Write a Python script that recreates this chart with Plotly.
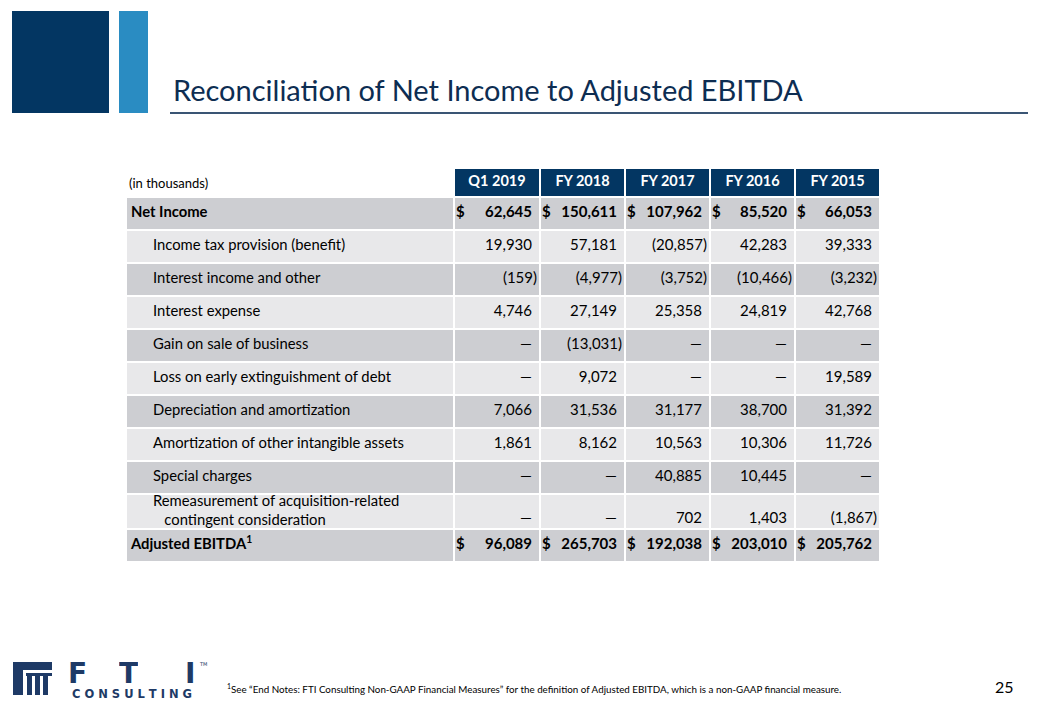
import plotly.graph_objects as go

# ---------------------------------------------------------------------------
# Data (in thousands)
# ---------------------------------------------------------------------------
periods = ["Q1 2019", "FY 2018", "FY 2017", "FY 2016", "FY 2015"]

row_labels = [
    "Net Income",
    "Income tax provision (benefit)",
    "Interest income and other",
    "Interest expense",
    "Gain on sale of business",
    "Loss on early extinguishment of debt",
    "Depreciation and amortization",
    "Amortization of other intangible assets",
    "Special charges",
    "Remeasurement of acquisition-related\ncontingent consideration",
    "Adjusted EBITDA",
]
total_rows = [0, 10]      # bold rows with "$" signs

q1_2019 = [62645, 19930, -159, 4746, None, None, 7066, 1861, None, None, 96089]
fy_2018 = [150611, 57181, -4977, 27149, -13031, 9072, 31536, 8162, None, None, 265703]
fy_2017 = [107962, -20857, -3752, 25358, None, None, 31177, 10563, 40885, 702, 192038]
fy_2016 = [85520, 42283, -10466, 24819, None, None, 38700, 10306, 10445, 1403, 203010]
fy_2015 = [66053, 39333, -3232, 42768, None, 19589, 31392, 11726, None, -1867, 205762]
columns = [q1_2019, fy_2018, fy_2017, fy_2016, fy_2015]

title = "Reconciliation of Net Income to Adjusted EBITDA"
units_note = "(in thousands)"
footnote = ("<sup>1</sup>See \u201cEnd Notes: FTI Consulting Non-GAAP Financial Measures\u201d "
            "for the definition of Adjusted EBITDA, which is a non-GAAP financial measure.")
page_no = "25"

# ---------------------------------------------------------------------------
# Layout constants (pixel space of the slide)
# ---------------------------------------------------------------------------
W, H = 1040, 720
NAVY = "#033662"
TITLE_C = "#0D2D52"
DARK_ROW = "#CDCED2"
LIGHT_ROW = "#E8E8EA"
LOGO_C = "#1E3A66"
FONT = "Lato, Carlito, Calibri, sans-serif"

col_edges = [126, 454, 540, 625, 710, 795, 880]
header_h, row_h, tall_row_h = 29, 33, 35
table_top = 168

row_edges = [table_top, table_top + header_h]
for lab in row_labels:
    row_edges.append(row_edges[-1] + (tall_row_h if "\n" in lab else row_h))
row_mid = [(a + b) / 2 for a, b in zip(row_edges[:-1], row_edges[1:])]


def fmt(v):
    if v is None:
        return "\u2014"
    s = f"{abs(v):,}"
    return f"({s})" if v < 0 else s


# ---------------------------------------------------------------------------
# Cell backgrounds: heatmap bricks with white gaps
# ---------------------------------------------------------------------------
# 0 dark grey, 1 light grey, 2 navy header, 3 white
z = [[3] + [2] * len(periods)]
for i in range(len(row_labels)):
    shade = 0 if i % 2 == 0 else 1
    z.append([shade] * (len(periods) + 1))

fig = go.Figure()
fig.add_trace(go.Heatmap(
    x=col_edges, y=row_edges, z=z,
    zmin=0, zmax=3,
    colorscale=[[0, DARK_ROW], [1 / 3, LIGHT_ROW], [2 / 3, NAVY], [1, "white"]],
    xgap=2, ygap=2, showscale=False, hoverinfo="skip",
))

# header text
fig.add_trace(go.Scatter(
    x=[(a + b) / 2 for a, b in zip(col_edges[1:-1], col_edges[2:])],
    y=[row_mid[0]] * len(periods),
    text=[f"<b>{p}</b>" for p in periods],
    mode="text", textposition="middle center",
    textfont=dict(family=FONT, size=14.5, color="white"),
    hoverinfo="skip", showlegend=False,
))

# row labels
lab_x, lab_t = [], []
for i, lab in enumerate(row_labels):
    if i in total_rows:
        lab_x.append(col_edges[0] + 5)
        t = "<b>" + lab + ("<sup>1</sup>" if i == 10 else "") + "</b>"
    else:
        lab_x.append(col_edges[0] + 27)
        t = lab.replace("\n", "<br>\u00a0\u00a0\u00a0")
    lab_t.append(t)
fig.add_trace(go.Scatter(
    x=lab_x, y=row_mid[1:], text=lab_t,
    mode="text", textposition="middle right",
    textfont=dict(family=FONT, size=14.8, color="black"),
    hoverinfo="skip", showlegend=False,
))

# values
for c, vals in enumerate(columns):
    left, right = col_edges[c + 1], col_edges[c + 2]
    xs, ys, ts = [], [], []
    for i, v in enumerate(vals):
        y = row_mid[i + 1] + (8 if "\n" in row_labels[i] else 0)
        xs.append(right - (3 if (v is not None and v < 0) else 8))
        ys.append(y)
        ts.append(f"<b>{fmt(v)}</b>" if i in total_rows else fmt(v))
    fig.add_trace(go.Scatter(
        x=xs, y=ys, text=ts,
        mode="text", textposition="middle left",
        textfont=dict(family=FONT, size=15, color="black"),
        hoverinfo="skip", showlegend=False,
    ))
    # dollar signs on total rows
    fig.add_trace(go.Scatter(
        x=[left + 2] * len(total_rows), y=[row_mid[i + 1] for i in total_rows],
        text=["<b>$</b>"] * len(total_rows),
        mode="text", textposition="middle right",
        textfont=dict(family=FONT, size=15, color="black"),
        hoverinfo="skip", showlegend=False,
    ))

# ---------------------------------------------------------------------------
# Slide furniture
# ---------------------------------------------------------------------------
shapes = [
    dict(type="rect", x0=12, x1=109, y0=11, y1=113, fillcolor=NAVY, line_width=0),
    dict(type="rect", x0=119, x1=148, y0=11, y1=113, fillcolor="#2A8CC2", line_width=0),
    dict(type="line", x0=170, x1=1028, y0=113, y1=113, line=dict(color="#3A5574", width=2)),
    # logo column icon
    dict(type="rect", x0=13, x1=52, y0=662, y1=670, fillcolor=LOGO_C, line_width=0),
    dict(type="rect", x0=13, x1=23, y0=670, y1=695, fillcolor=LOGO_C, line_width=0),
    dict(type="rect", x0=26, x1=52, y0=673, y1=676, fillcolor=LOGO_C, line_width=0),
]
for px0 in (27, 35, 43):
    shapes.append(dict(type="rect", x0=px0, x1=px0 + 5, y0=676, y1=695,
                       fillcolor=LOGO_C, line_width=0))

annotations = [
    dict(x=171, y=89, text=title, xanchor="left", yanchor="middle", showarrow=False,
         font=dict(family=FONT, size=29, color=TITLE_C)),
    dict(x=col_edges[0] + 1, y=row_mid[0], text=units_note, xanchor="left", yanchor="middle",
         showarrow=False, font=dict(family=FONT, size=13, color="black")),
    dict(x=225, y=688, text=footnote, xanchor="left", yanchor="middle", showarrow=False,
         font=dict(family=FONT, size=9.8, color="black")),
    dict(x=1016, y=686, text=page_no, xanchor="right", yanchor="middle", showarrow=False,
         font=dict(family=FONT, size=16, color="black")),
    dict(x=70, y=693.5, text="<b>C O N S U L T I N G</b>", xanchor="left", yanchor="middle",
         showarrow=False, height=12, font=dict(family="DejaVu Sans", size=11.5, color=LOGO_C)),
    dict(x=203, y=664, text="TM", xanchor="center", yanchor="middle", showarrow=False,
         font=dict(family="DejaVu Sans", size=5, color=LOGO_C)),
]
for letter, lx in (("F", 77), ("T", 128), ("I", 190)):
    annotations.append(dict(x=lx, y=673, text=f"<b>{letter}</b>", xanchor="center",
                            yanchor="middle", showarrow=False, height=24,
                            font=dict(family="DejaVu Sans", size=28, color=LOGO_C)))

fig.update_layout(
    width=W, height=H,
    margin=dict(l=0, r=0, t=0, b=0),
    paper_bgcolor="white", plot_bgcolor="white",
    xaxis=dict(range=[0, W], visible=False, fixedrange=True),
    yaxis=dict(range=[H, 0], visible=False, fixedrange=True),
    shapes=shapes, annotations=annotations,
    showlegend=False,
)

# the page's default body margin would shift the slide by 8px
fig.write_html("out.html", config={"displayModeBar": False},
               post_script="document.body.style.margin='0';")
